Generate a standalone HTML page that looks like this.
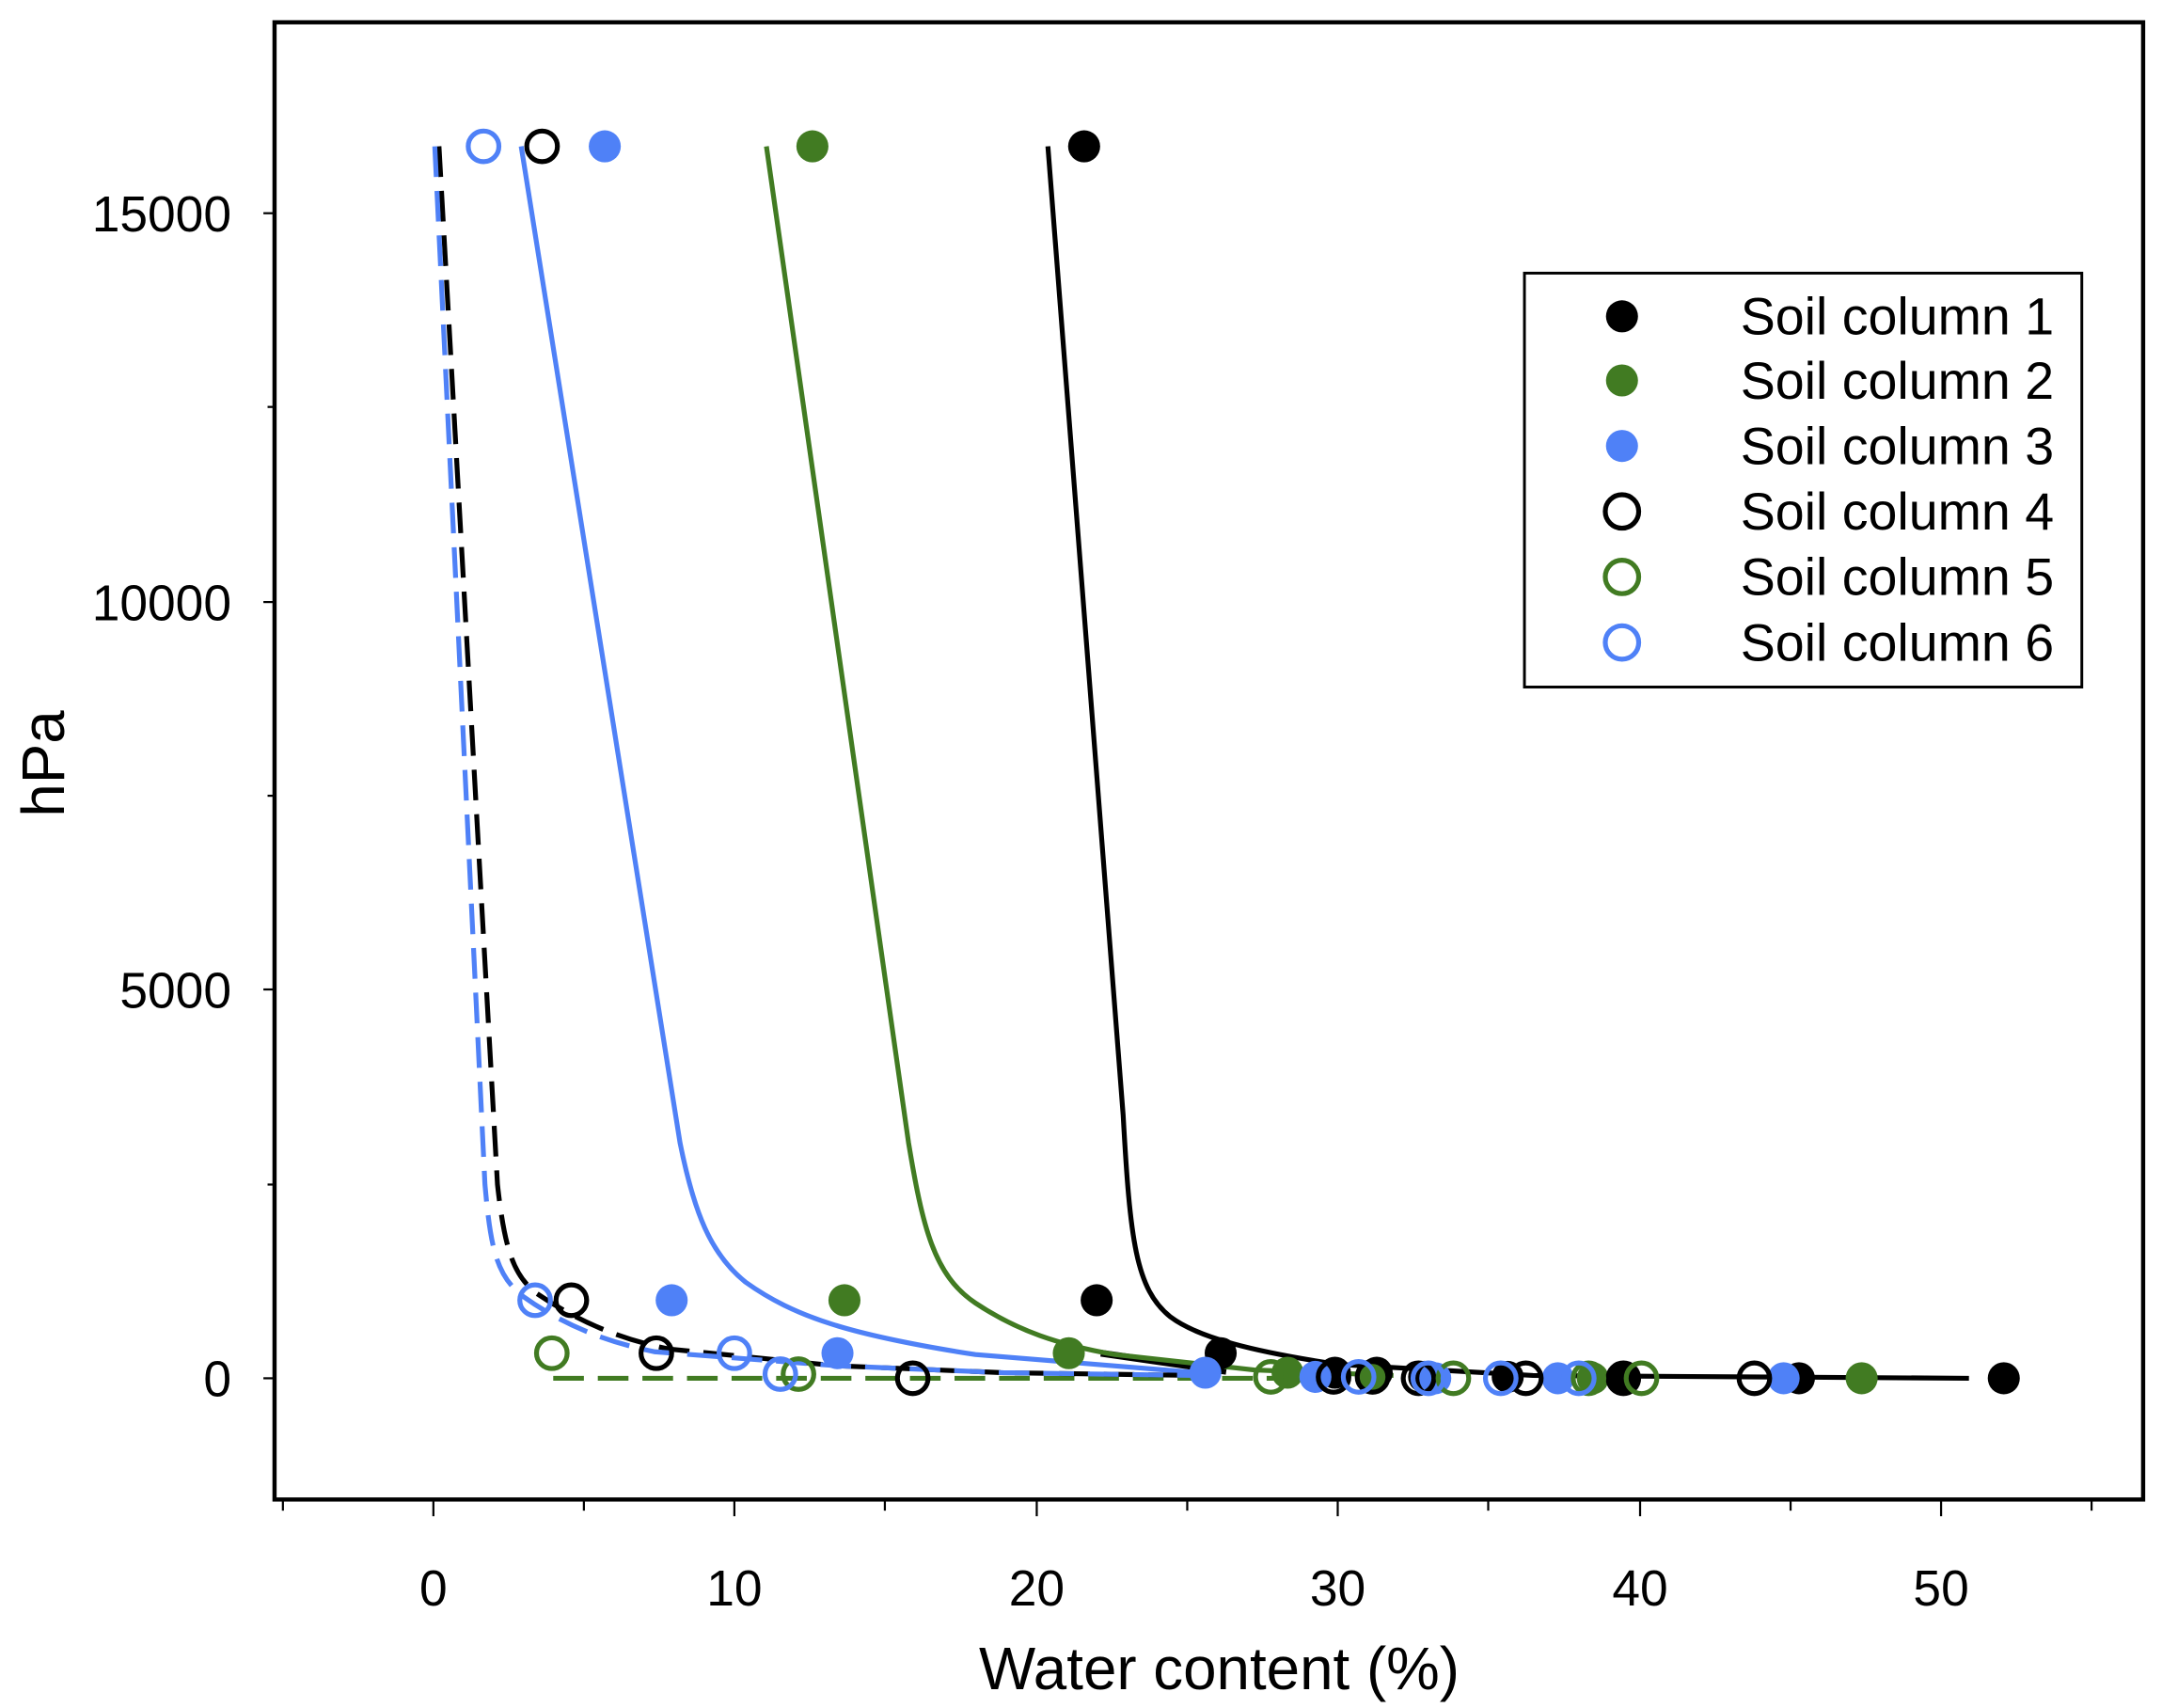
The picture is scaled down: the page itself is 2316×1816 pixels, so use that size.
<!DOCTYPE html>
<html><head><meta charset="utf-8"><style>html,body{margin:0;padding:0;background:#fff}svg{display:block}</style></head><body>
<svg width="2316" height="1816" viewBox="0 0 1563 1225.6" xmlns="http://www.w3.org/2000/svg" font-family="Liberation Sans, sans-serif">
<rect x="197" y="16" width="1341" height="1060" fill="none" stroke="#000" stroke-width="3"/>
<g stroke="#000" stroke-width="1.5">
<line x1="203" y1="1076" x2="203" y2="1084"/><line x1="311" y1="1076" x2="311" y2="1088"/><line x1="419" y1="1076" x2="419" y2="1084"/><line x1="527" y1="1076" x2="527" y2="1088"/><line x1="635" y1="1076" x2="635" y2="1084"/><line x1="744" y1="1076" x2="744" y2="1088"/><line x1="852" y1="1076" x2="852" y2="1084"/><line x1="960" y1="1076" x2="960" y2="1088"/><line x1="1068" y1="1076" x2="1068" y2="1084"/><line x1="1177" y1="1076" x2="1177" y2="1088"/><line x1="1285" y1="1076" x2="1285" y2="1084"/><line x1="1393" y1="1076" x2="1393" y2="1088"/><line x1="1501" y1="1076" x2="1501" y2="1084"/>
<line x1="189" y1="153" x2="197" y2="153"/><line x1="192" y1="292" x2="197" y2="292"/><line x1="189" y1="432" x2="197" y2="432"/><line x1="192" y1="571" x2="197" y2="571"/><line x1="189" y1="710" x2="197" y2="710"/><line x1="192" y1="850" x2="197" y2="850"/><line x1="189" y1="989" x2="197" y2="989"/>
</g>
<g font-size="36" text-anchor="middle">
<text x="311" y="1152">0</text><text x="527" y="1152">10</text><text x="744" y="1152">20</text><text x="960" y="1152">30</text><text x="1177" y="1152">40</text><text x="1393" y="1152">50</text>
</g>
<g font-size="36" text-anchor="end">
<text x="166" y="166">15000</text><text x="166" y="445">10000</text><text x="166" y="723">5000</text><text x="166" y="1002">0</text>
</g>
<text x="875" y="1212" font-size="43" text-anchor="middle">Water content (%)</text>
<text transform="translate(46,548) rotate(-90)" font-size="43" text-anchor="middle">hPa</text>
<g fill="none" stroke-width="3.5">
<path stroke="#417b22" stroke-dasharray="22,10" d="M397,989 L1000,989"/>
<path stroke="#000" d="M752,105 L806,800 C811,890 815,925 840,945 C860,960 900,970 960,979 L1100,987 L1413,989"/>
<path stroke="#000" stroke-width="5" d="M790,971 L880,984"/>
<path stroke="#417b22" d="M550,105 L652,820 C662,880 670,915 700,935 C730,955 760,965 800,972 L900,983 L1000,987"/>
<path stroke="#4f81f7" d="M374,105 L488,820 C498,870 510,900 535,920 C570,945 610,958 700,972 L860,985"/>
<path stroke="#000" stroke-dasharray="22,10" d="M315,105 L357,850 C362,895 368,915 385,928 C410,945 440,960 480,968 L600,980 L720,985 L860,987"/>
<path stroke="#4f81f7" stroke-dasharray="22,10" d="M312,105 L348,850 C352,895 356,915 375,930 C400,948 430,962 470,970 L600,980 L720,985 L860,987"/>
</g>
<g fill="#000">
<circle cx="778" cy="105" r="11.5"/><circle cx="787" cy="933" r="11.5"/><circle cx="876" cy="971" r="11.5"/><circle cx="958" cy="985" r="11.5"/><circle cx="988" cy="985" r="11.5"/><circle cx="1022" cy="988" r="11.5"/><circle cx="1082" cy="988" r="11.5"/><circle cx="1165" cy="989" r="11.5"/><circle cx="1291" cy="989" r="11.5"/><circle cx="1438" cy="989" r="11.5"/>
</g>
<g fill="#417b22">
<circle cx="583" cy="105" r="11.5"/><circle cx="606" cy="933" r="11.5"/><circle cx="767" cy="971" r="11.5"/><circle cx="924" cy="985" r="11.5"/><circle cx="984" cy="988" r="11.5"/><circle cx="1143" cy="989" r="11.5"/><circle cx="1336" cy="989" r="11.5"/>
</g>
<g fill="#4f81f7">
<circle cx="434" cy="105" r="11.5"/><circle cx="482" cy="933" r="11.5"/><circle cx="601" cy="971" r="11.5"/><circle cx="865" cy="985" r="11.5"/><circle cx="944" cy="988" r="11.5"/><circle cx="1030" cy="989" r="11.5"/><circle cx="1118" cy="989" r="11.5"/><circle cx="1280" cy="989" r="11.5"/>
</g>
<g fill="none" stroke-width="3.5">
<g stroke="#000"><circle cx="389" cy="105" r="11"/><circle cx="410" cy="933" r="11"/><circle cx="471" cy="971" r="11"/><circle cx="655" cy="989" r="11"/><circle cx="957" cy="988" r="11"/><circle cx="985" cy="988" r="11"/><circle cx="1018" cy="989" r="11"/><circle cx="1095" cy="989" r="11"/><circle cx="1165" cy="989" r="11"/><circle cx="1259" cy="989" r="11"/></g>
<g stroke="#417b22"><circle cx="396" cy="971" r="11"/><circle cx="573" cy="986" r="11"/><circle cx="912" cy="988" r="11"/><circle cx="1043" cy="989" r="11"/><circle cx="1140" cy="989" r="11"/><circle cx="1178" cy="989" r="11"/></g>
<g stroke="#4f81f7"><circle cx="347" cy="105" r="11"/><circle cx="384" cy="933" r="11"/><circle cx="527" cy="971" r="11"/><circle cx="560" cy="986" r="11"/><circle cx="975" cy="988" r="11"/><circle cx="1025" cy="989" r="11"/><circle cx="1077" cy="989" r="11"/><circle cx="1133" cy="989" r="11"/></g>
</g>
<rect x="1094" y="196" width="400" height="297" fill="#fff" stroke="#000" stroke-width="2"/>
<circle cx="1164" cy="227" r="11.5" fill="#000"/>
<circle cx="1164" cy="273" r="11.5" fill="#417b22"/>
<circle cx="1164" cy="320" r="11.5" fill="#4f81f7"/>
<circle cx="1164" cy="367" r="12" fill="none" stroke="#000" stroke-width="3.5"/>
<circle cx="1164" cy="414" r="12" fill="none" stroke="#417b22" stroke-width="3.5"/>
<circle cx="1164" cy="461" r="12" fill="none" stroke="#4f81f7" stroke-width="3.5"/>
<g font-size="37.5">
<text x="1249" y="240">Soil column 1</text><text x="1249" y="286">Soil column 2</text><text x="1249" y="333">Soil column 3</text><text x="1249" y="380">Soil column 4</text><text x="1249" y="427">Soil column 5</text><text x="1249" y="474">Soil column 6</text>
</g>
</svg>
</body></html>
